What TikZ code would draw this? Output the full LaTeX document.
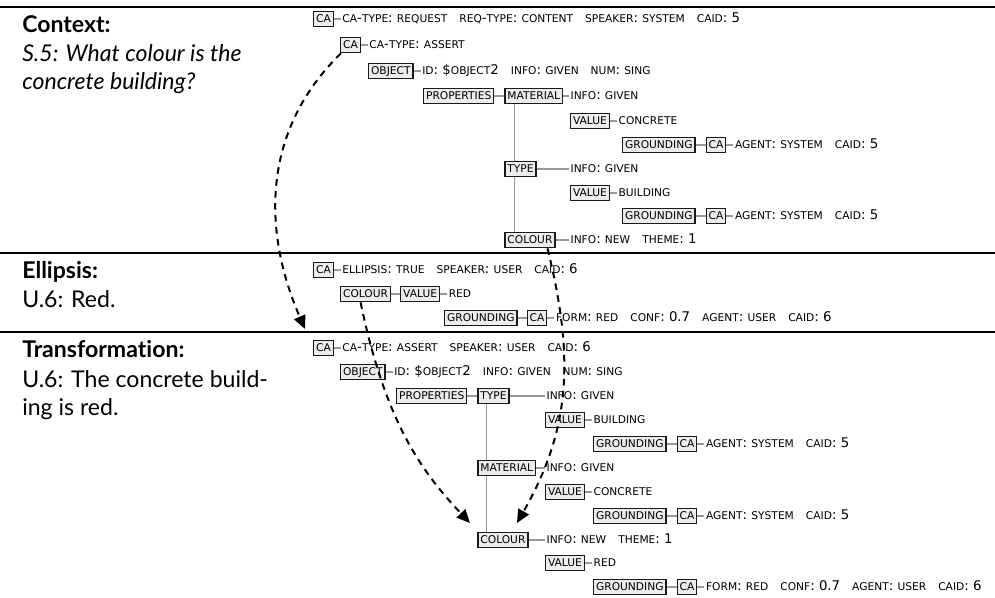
\documentclass[tikz,border=0pt]{standalone}
\usepackage{fontspec}
\setmainfont{Lato}[Ligatures=NoCommon]
\newfontfamily\treefont{DejaVu Sans}
\usetikzlibrary{arrows.meta,calc}

% small capitals used for feature names and atomic values
\newcommand\sk[1]{{\fontsize{8pt}{9pt}\selectfont #1}}
\newcommand\gap{\hspace{9pt}}

\begin{document}
\begin{tikzpicture}[x=0.75pt,y=-0.75pt,
  box/.style={draw=black!90, fill=black!7, line width=1pt,
    font=\treefont\fontsize{8pt}{9pt}\selectfont,
    inner xsep=1.8pt, inner ysep=2.8pt, text height=5.9pt, text depth=0pt, anchor=west},
  txt/.style={inner xsep=1pt, inner ysep=0pt, text height=5.9pt, text depth=0pt,
    anchor=west, font=\treefont\fontsize{10pt}{12pt}\selectfont},
  conn/.style={draw=black!40, line width=0.9pt},
  rule/.style={line width=2pt},
  flow/.style={line width=1.5pt, dash pattern=on 5pt off 4pt,
    -{Triangle[length=10pt,width=9pt]}},
  head/.style={anchor=base west, inner sep=0pt, font=\bfseries\fontsize{17.3pt}{20pt}\selectfont},
  lab/.style={anchor=base west, inner sep=0pt, font=\fontsize{17.3pt}{20pt}\selectfont}]

\useasboundingbox (0,0) rectangle (995,598);

% section rules
\draw[rule] (0,7) -- (995,7);
\draw[rule] (0,253) -- (995,253);
\draw[rule] (0,332) -- (995,332);

% section captions
\node[head] (hctx) at (22,33) {Context:};
\node[lab]  (lctx1) at (22,62) {\itshape S.5: What colour is the};
\node[lab]  (lctx2) at (22,90) {\itshape concrete building?};
\node[head] (hell) at (22,279) {Ellipsis:};
\node[lab]  (lell) at (22,308) {U.6: Red.};
\node[head] (htr) at (22,358) {Transformation:};
\node[lab]  (ltr1) at (22,387) {U.6: The concrete build-};
\node[lab]  (ltr2) at (22,415) {ing is red.};

% ---------- context structure ----------
\node[box] (a1) at (313,19) {CA};
\node[txt] (a1t) at ($(a1.east)+(7,0)$) {\sk{CA}-\sk{TYPE}: \sk{REQUEST}\gap\sk{REQ}-\sk{TYPE}: \sk{CONTENT}\gap\sk{SPEAKER}: \sk{SYSTEM}\gap\sk{CAID}: 5};
\node[box] (a2) at (340,45) {CA};
\node[txt] (a2t) at ($(a2.east)+(7,0)$) {\sk{CA}-\sk{TYPE}: \sk{ASSERT}};
\node[box] (aobj) at (368,71) {OBJECT};
\node[txt] (aobjt) at ($(aobj.east)+(7,0)$) {\sk{ID}: \$\sk{OBJECT}2\gap\sk{INFO}: \sk{GIVEN}\gap\sk{NUM}: \sk{SING}};
\node[box] (aprop) at (423,96) {PROPERTIES};
\node[box] (amat) at ($(aprop.east)+(10,0)$) {MATERIAL};
\node[txt] (amatt) at (569,96) {\sk{INFO}: \sk{GIVEN}};
\node[box] (aval1) at (570,121) {VALUE};
\node[txt] (aval1t) at ($(aval1.east)+(7,0)$) {\sk{CONCRETE}};
\node[box] (agr1) at (622,145) {GROUNDING};
\node[box] (agc1) at ($(agr1.east)+(10,0)$) {CA};
\node[txt] (agc1t) at ($(agc1.east)+(7,0)$) {\sk{AGENT}: \sk{SYSTEM}\gap\sk{CAID}: 5};
\node[box] (atyp) at (amat.west |- 0,169) {TYPE};
\node[txt] (atypt) at (569,169) {\sk{INFO}: \sk{GIVEN}};
\node[box] (aval2) at (570,193) {VALUE};
\node[txt] (aval2t) at ($(aval2.east)+(7,0)$) {\sk{BUILDING}};
\node[box] (agr2) at (622,216) {GROUNDING};
\node[box] (agc2) at ($(agr2.east)+(10,0)$) {CA};
\node[txt] (agc2t) at ($(agc2.east)+(7,0)$) {\sk{AGENT}: \sk{SYSTEM}\gap\sk{CAID}: 5};
\node[box] (acol) at (amat.west |- 0,240) {COLOUR};
\node[txt] (acolt) at (569,240) {\sk{INFO}: \sk{NEW}\gap\sk{THEME}: 1};

\draw[conn] (a1) -- (a1t);
\draw[conn] (a2) -- (a2t);
\draw[conn] (aobj) -- (aobjt);
\draw[conn] (aprop) -- (amat);
\draw[conn] (amat) -- (amatt);
\draw[conn] (aval1) -- (aval1t);
\draw[conn] (agr1) -- (agc1);
\draw[conn] (agc1) -- (agc1t);
\draw[conn] (atyp) -- (atypt);
\draw[conn] (aval2) -- (aval2t);
\draw[conn] (agr2) -- (agc2);
\draw[conn] (agc2) -- (agc2t);
\draw[conn] (acol) -- (acolt);
\draw[conn] ($(amat.south west)+(10,0)$) -- ($(atyp.north west)+(10,0)$);
\draw[conn] ($(atyp.south west)+(10,0)$) -- ($(acol.north west)+(10,0)$);

% ---------- elliptical utterance ----------
\node[box] (b1) at (313,270) {CA};
\node[txt] (b1t) at ($(b1.east)+(7,0)$) {\sk{ELLIPSIS}: \sk{TRUE}\gap\sk{SPEAKER}: \sk{USER}\gap\sk{CAID}: 6};
\node[box] (bcol) at (340,294) {COLOUR};
\node[box] (bval) at ($(bcol.east)+(9,0)$) {VALUE};
\node[txt] (bvalt) at ($(bval.east)+(7,0)$) {\sk{RED}};
\node[box] (bgr) at (444,318) {GROUNDING};
\node[box] (bgc) at ($(bgr.east)+(9,0)$) {CA};
\node[txt] (bgct) at ($(bgc.east)+(7,0)$) {\sk{FORM}: \sk{RED}\gap\sk{CONF}: 0.7\gap\sk{AGENT}: \sk{USER}\gap\sk{CAID}: 6};

\draw[conn] (b1) -- (b1t);
\draw[conn] (bcol) -- (bval);
\draw[conn] (bval) -- (bvalt);
\draw[conn] (bgr) -- (bgc);
\draw[conn] (bgc) -- (bgct);

% ---------- resolved structure ----------
\node[box] (c1) at (313,348) {CA};
\node[txt] (c1t) at ($(c1.east)+(7,0)$) {\sk{CA}-\sk{TYPE}: \sk{ASSERT}\gap\sk{SPEAKER}: \sk{USER}\gap\sk{CAID}: 6};
\node[box] (cobj) at (340,372) {OBJECT};
\node[txt] (cobjt) at ($(cobj.east)+(7,0)$) {\sk{ID}: \$\sk{OBJECT}2\gap\sk{INFO}: \sk{GIVEN}\gap\sk{NUM}: \sk{SING}};
\node[box] (cprop) at (396,396) {PROPERTIES};
\node[box] (ctyp) at ($(cprop.east)+(10,0)$) {TYPE};
\node[txt] (ctypt) at (545,396) {\sk{INFO}: \sk{GIVEN}};
\node[box] (cval1) at (545,420) {VALUE};
\node[txt] (cval1t) at ($(cval1.east)+(7,0)$) {\sk{BUILDING}};
\node[box] (cgr1) at (593,444) {GROUNDING};
\node[box] (cgc1) at ($(cgr1.east)+(10,0)$) {CA};
\node[txt] (cgc1t) at ($(cgc1.east)+(7,0)$) {\sk{AGENT}: \sk{SYSTEM}\gap\sk{CAID}: 5};
\node[box] (cmat) at (ctyp.west |- 0,468) {MATERIAL};
\node[txt] (cmatt) at (545,468) {\sk{INFO}: \sk{GIVEN}};
\node[box] (cval2) at (545,492) {VALUE};
\node[txt] (cval2t) at ($(cval2.east)+(7,0)$) {\sk{CONCRETE}};
\node[box] (cgr2) at (593,516) {GROUNDING};
\node[box] (cgc2) at ($(cgr2.east)+(10,0)$) {CA};
\node[txt] (cgc2t) at ($(cgc2.east)+(7,0)$) {\sk{AGENT}: \sk{SYSTEM}\gap\sk{CAID}: 5};
\node[box] (ccol) at (ctyp.west |- 0,540) {COLOUR};
\node[txt] (ccolt) at (545,540) {\sk{INFO}: \sk{NEW}\gap\sk{THEME}: 1};
\node[box] (cval3) at (545,563) {VALUE};
\node[txt] (cval3t) at ($(cval3.east)+(7,0)$) {\sk{RED}};
\node[box] (cgr3) at (593,587) {GROUNDING};
\node[box] (cgc3) at ($(cgr3.east)+(10,0)$) {CA};
\node[txt] (cgc3t) at ($(cgc3.east)+(7,0)$) {\sk{FORM}: \sk{RED}\gap\sk{CONF}: 0.7\gap\sk{AGENT}: \sk{USER}\gap\sk{CAID}: 6};

\draw[conn] (c1) -- (c1t);
\draw[conn] (cobj) -- (cobjt);
\draw[conn] (cprop) -- (ctyp);
\draw[conn] (ctyp) -- (ctypt);
\draw[conn] (cval1) -- (cval1t);
\draw[conn] (cgr1) -- (cgc1);
\draw[conn] (cgc1) -- (cgc1t);
\draw[conn] (cmat) -- (cmatt);
\draw[conn] (cval2) -- (cval2t);
\draw[conn] (cgr2) -- (cgc2);
\draw[conn] (cgc2) -- (cgc2t);
\draw[conn] (ccol) -- (ccolt);
\draw[conn] (cval3) -- (cval3t);
\draw[conn] (cgr3) -- (cgc3);
\draw[conn] (cgc3) -- (cgc3t);
\draw[conn] ($(ctyp.south west)+(9,0)$) -- ($(cmat.north west)+(9,0)$);
\draw[conn] ($(cmat.south west)+(9,0)$) -- ($(ccol.north west)+(9,0)$);

% ---------- dashed transfer arrows ----------
\coordinate (endca) at (305,329);
\coordinate (endcol1) at (470,523);
\coordinate (endcol2) at (517,523);
\draw[flow] ($(a2.south west)+(1,0)$) .. controls (262,130) and (262,230) .. (endca);
\draw[flow] ($(bcol.south)+(-5,0)$) .. controls (385,420) and (420,470) .. (endcol1);
\draw[flow] ($(acol.south east)+(-8,0)$) .. controls (575,360) and (570,430) .. (endcol2);
\end{tikzpicture}
\end{document}
